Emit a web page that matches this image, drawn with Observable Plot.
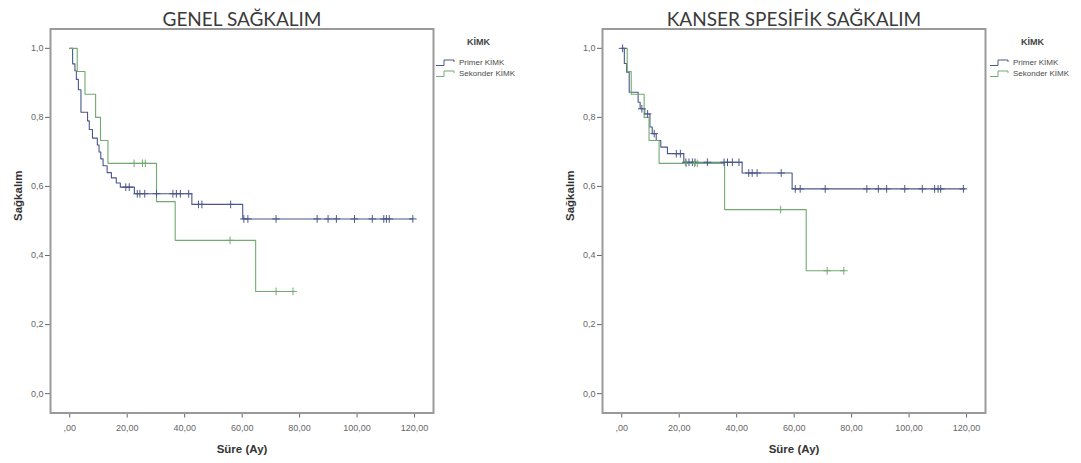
<!DOCTYPE html>
<html>
<head>
<meta charset="utf-8">
<script src="https://cdn.jsdelivr.net/npm/d3@7"></script>
<script src="https://cdn.jsdelivr.net/npm/@observablehq/plot@0.6"></script>
<style>
  body { margin: 0; background: #fff; }
  #figure { position: relative; width: 1081px; height: 463px; overflow: hidden; background: #fff;
            font-family: "Liberation Sans", Arial, sans-serif; }
  .panel { position: absolute; top: 0; }
  .legend { position: absolute; color: #4a4a4a; font-size: 8px; line-height: 11px; }
  .legend .head { font-weight: bold; font-size: 9px; color: #444; position: absolute; white-space: nowrap; }
  .legend .row { position: absolute; white-space: nowrap; display: flex; align-items: center; }
  .legend svg { margin-right: 2px; }
</style>
</head>
<body>
<div id="figure"></div>
<script>
// Kaplan–Meier estimates: step times (months) and survival after each step.
// Genel sağkalım, Primer KİMK
const genelPrimerTime = [0, 1.0, 1.8, 2.3, 3.0, 3.9, 6.2, 6.8, 7.9, 9.6, 10.2, 10.8, 11.6, 13.0, 14.5, 16.2, 17.6, 22.5, 42.5, 60.2, 119.4];
const genelPrimerSurv = [1.0, 0.955, 0.935, 0.91, 0.88, 0.815, 0.79, 0.765, 0.74, 0.72, 0.70, 0.68, 0.66, 0.64, 0.625, 0.61, 0.598, 0.579, 0.548, 0.506, 0.506];
const genelPrimerCensored = [19.5, 20.7, 23.5, 24.4, 26.1, 30.2, 35.9, 37.1, 38.5, 41.4, 44.8, 46.0, 56.0, 60.6, 62.0, 71.8, 86.1, 89.9, 92.8, 99.1, 105.3, 109.3, 110.2, 111.2, 119.4];

// Genel sağkalım, Sekonder KİMK
const genelSekonderTime = [0, 2.6, 5.3, 9.0, 10.7, 13.3, 30.2, 36.7, 64.7, 77.7];
const genelSekonderSurv = [1.0, 0.933, 0.867, 0.80, 0.733, 0.667, 0.556, 0.444, 0.296, 0.296];
const genelSekonderCensored = [22.4, 25.3, 26.3, 55.8, 71.8, 77.7];

// Kanser spesifik sağkalım, Primer KİMK
const kanserPrimerTime = [0, 0.9, 1.7, 2.6, 5.7, 6.4, 8.0, 9.8, 10.6, 12.0, 13.6, 15.9, 21.6, 41.9, 59.3, 119.4];
const kanserPrimerSurv = [1.0, 0.956, 0.931, 0.873, 0.844, 0.825, 0.81, 0.772, 0.753, 0.733, 0.714, 0.695, 0.670, 0.639, 0.593, 0.593];
const kanserPrimerCensored = [0.3, 7.0, 9.0, 11.3, 19.0, 20.4, 22.3, 23.4, 24.6, 25.5, 29.8, 35.6, 36.8, 38.5, 40.8, 44.2, 45.4, 47.1, 55.5, 60.4, 62.1, 70.8, 85.3, 89.3, 92.2, 98.5, 104.6, 108.9, 110.1, 111.0, 118.9];

// Kanser spesifik sağkalım, Sekonder KİMK
const kanserSekonderTime = [0, 1.9, 3.3, 7.8, 9.5, 13.0, 35.8, 64.2, 77.3];
const kanserSekonderSurv = [1.0, 0.933, 0.867, 0.80, 0.733, 0.667, 0.533, 0.356, 0.356];
const kanserSekonderCensored = [22.4, 25.3, 26.3, 55.3, 71.5, 77.3];

// Axis ticks and labels
const xTicks = [0, 20, 40, 60, 80, 100, 120];
const yTicks = [0, 0.2, 0.4, 0.6, 0.8, 1.0];
const groupNames = ["Primer KİMK", "Sekonder KİMK"];
const legendTitle = "KİMK";
const panelTitles = ["GENEL SAĞKALIM", "KANSER SPESİFİK SAĞKALIM"];
const xLabel = "Süre (Ay)";
const yLabel = "Sağkalım";

const colors = {"Primer KİMK": "#4b5787", "Sekonder KİMK": "#72aa72"};

const fmtX = d => d === 0 ? ",00" : d3.format(".2f")(d).replace(".", ",");
const fmtY = d => d3.format(".1f")(d).replace(".", ",");

function curve(group, times, surv) {
  return times.map((t, i) => ({group, t, s: surv[i]}));
}
function censorMarks(group, times, surv, censored) {
  return censored.map(t => {
    const i = Math.max(0, d3.bisectRight(times, t) - 1);
    return {group, t, s: surv[i]};
  });
}

function panel(title, primer, sekonder) {
  const lines = [...curve(groupNames[0], ...primer.slice(0, 2)), ...curve(groupNames[1], ...sekonder.slice(0, 2))];
  const ticksData = [...censorMarks(groupNames[0], ...primer), ...censorMarks(groupNames[1], ...sekonder)];
  return Plot.plot({
    width: 540,
    height: 463,
    marginLeft: 50,
    marginRight: 107,
    marginTop: 28.5,
    marginBottom: 50.5,
    style: {background: "transparent", fontFamily: "'Liberation Sans', Arial, sans-serif"},
    x: {domain: [-6.7, 126.6]},
    y: {domain: [-0.056, 1.056]},
    color: {domain: groupNames, range: groupNames.map(g => colors[g])},
    marks: [
      Plot.axisX({ticks: xTicks, tickFormat: fmtX, tickSize: 5, tickPadding: 7, fontSize: 9, color: "#666", label: null}),
      Plot.axisY({ticks: yTicks, tickFormat: fmtY, tickSize: 5, tickPadding: 2, fontSize: 9, color: "#666", label: null}),
      Plot.line(lines, {x: "t", y: "s", z: "group", stroke: "group", curve: "step-after", strokeWidth: 1.1}),
      Plot.dot(ticksData, {x: "t", y: "s", stroke: "group", symbol: "plus", r: 2.6, strokeWidth: 1}),
      Plot.frame({stroke: "#9a9a9a", strokeWidth: 2}),
      Plot.text([title], {frameAnchor: "top", dy: -17, fontSize: 19, fill: "#3a3a3a",
                          fontFamily: "Lato, 'Open Sans', sans-serif"}),
      Plot.text([xLabel], {frameAnchor: "bottom", dy: 39.5, fontSize: 11.5, fontWeight: "bold", fill: "#333"}),
      Plot.text([yLabel], {frameAnchor: "left", dx: -32, rotate: -90, fontSize: 11.5, fontWeight: "bold", fill: "#333"})
    ]
  });
}

function legend(left) {
  const box = document.createElement("div");
  box.className = "legend";
  box.style.left = left + "px";
  box.style.top = "0px";
  const head = document.createElement("div");
  head.className = "head";
  head.textContent = legendTitle;
  head.style.left = "32px";
  head.style.top = "37px";
  box.appendChild(head);
  groupNames.forEach((g, i) => {
    const row = document.createElement("div");
    row.className = "row";
    row.style.left = "0px";
    row.style.top = (57 + i * 11) + "px";
    row.innerHTML = `<svg width="22" height="9"><path d="M1,7.5H9V2H19V4" fill="none" stroke="${colors[g]}" stroke-width="1"/></svg><span>${g}</span>`;
    box.appendChild(row);
  });
  return box;
}

const fig = document.getElementById("figure");
const left = panel(panelTitles[0],
  [genelPrimerTime, genelPrimerSurv, genelPrimerCensored],
  [genelSekonderTime, genelSekonderSurv, genelSekonderCensored]);
left.classList.add("panel");
left.style.left = "0px";
fig.appendChild(left);

const right = panel(panelTitles[1],
  [kanserPrimerTime, kanserPrimerSurv, kanserPrimerCensored],
  [kanserSekonderTime, kanserSekonderSurv, kanserSekonderCensored]);
right.classList.add("panel");
right.style.left = "552px";
fig.appendChild(right);

fig.appendChild(legend(435));
fig.appendChild(legend(989));
</script>
</body>
</html>
